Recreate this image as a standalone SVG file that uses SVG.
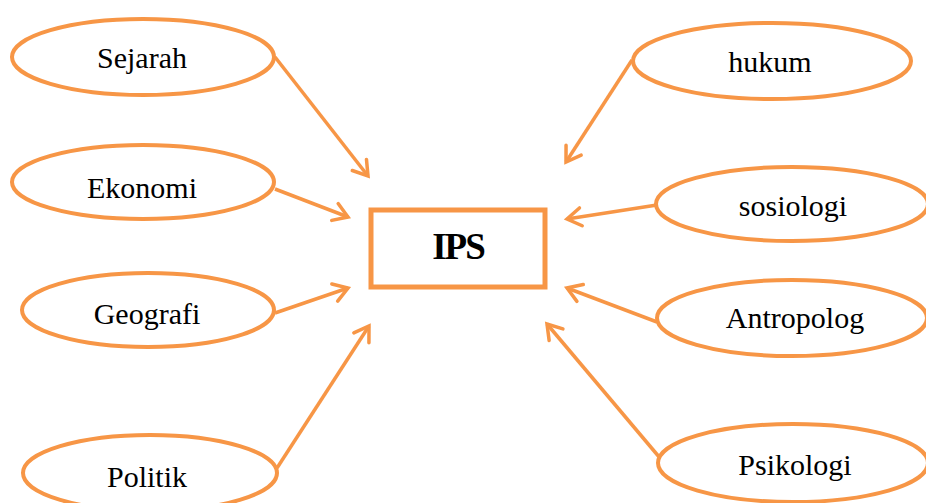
<svg xmlns="http://www.w3.org/2000/svg" width="926" height="503" viewBox="0 0 926 503">
<defs>
<style>
.n{fill:#fff;stroke:#F79646;stroke-width:4}
.t{font-family:"Liberation Serif","Times New Roman",serif;font-size:30px;fill:#000;text-anchor:middle}
.c line{stroke:#F79646;stroke-width:3.5;marker-end:url(#ah)}
</style>
<marker id="ah" markerUnits="userSpaceOnUse" viewBox="-20 -12 24 24" markerWidth="24" markerHeight="24" refX="0" refY="0" orient="auto">
<path d="M-14,-9 L0,0 L-14,9" fill="none" stroke="#F79646" stroke-width="3.5" stroke-linecap="round" stroke-linejoin="miter"/>
</marker>
</defs>
<rect width="926" height="503" fill="#fff"/>
<g class="c" id="connectors">
<line x1="275" y1="57" x2="368" y2="176"/>
<line x1="275" y1="189" x2="348" y2="217"/>
<line x1="275" y1="313" x2="348" y2="288"/>
<line x1="277" y1="468" x2="369" y2="326"/>
<line x1="632" y1="60" x2="566" y2="162"/>
<line x1="657" y1="205" x2="567" y2="219"/>
<line x1="657" y1="322" x2="567" y2="288"/>
<line x1="660" y1="458" x2="547" y2="324"/>
</g>
<g id="ips">
<rect x="371" y="210" width="174" height="77" fill="#fff" stroke="#F79646" stroke-width="5"/>
<text x="458" y="259" style="font-family:'Liberation Serif','Times New Roman',serif;font-size:37px;font-weight:bold;text-anchor:middle;letter-spacing:-2px">IPS</text>
</g>
<g id="sejarah"><ellipse class="n" cx="143" cy="57" rx="131" ry="38"/><text class="t" x="142" y="68">Sejarah</text></g>
<g id="ekonomi"><ellipse class="n" cx="143" cy="182" rx="131" ry="37"/><text class="t" x="142" y="198">Ekonomi</text></g>
<g id="geografi"><ellipse class="n" cx="148" cy="310" rx="126" ry="37"/><text class="t" x="147" y="324">Geografi</text></g>
<g id="politik"><ellipse class="n" cx="150" cy="473" rx="127" ry="38"/><text class="t" x="147" y="487">Politik</text></g>
<g id="hukum"><ellipse class="n" cx="772" cy="61" rx="139" ry="38"/><text class="t" x="770" y="72">hukum</text></g>
<g id="sosiologi"><ellipse class="n" cx="792" cy="204" rx="136" ry="37"/><text class="t" x="793" y="216">sosiologi</text></g>
<g id="antropolog"><ellipse class="n" cx="792" cy="318" rx="135" ry="38"/><text class="t" x="795" y="328">Antropolog</text></g>
<g id="psikologi"><ellipse class="n" cx="793" cy="463" rx="135" ry="39"/><text class="t" x="795" y="475">Psikologi</text></g>
</svg>
